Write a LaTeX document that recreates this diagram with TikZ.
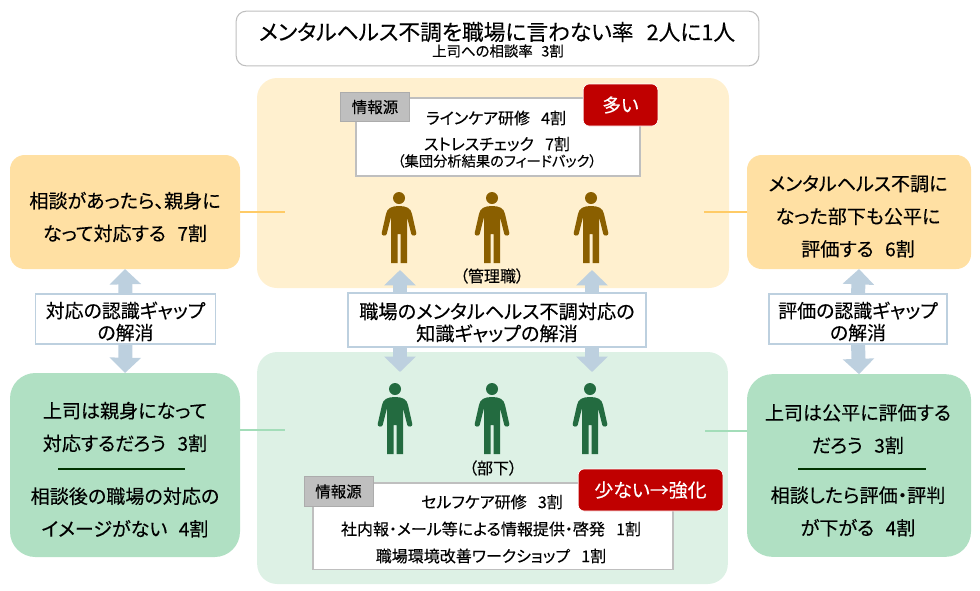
\documentclass[tikz,border=0pt]{standalone}
\usepackage{fontspec}
\setmainfont{Noto Sans CJK JP}[RawFeature=+palt,FakeBold=0.25]
\usetikzlibrary{arrows.meta}
\definecolor{upanel}{HTML}{FFF0CF}
\definecolor{ubox}{HTML}{FFE0A3}
\definecolor{lpanel}{HTML}{DDF1E5}
\definecolor{lbox}{HTML}{B0E0C3}
\definecolor{uline}{HTML}{FFCB66}
\definecolor{lline}{HTML}{A3DDB9}
\definecolor{gapc}{HTML}{BDD0DF}
\definecolor{greyc}{HTML}{BFBFBF}
\definecolor{redc}{HTML}{C00000}
\definecolor{mgrc}{HTML}{8A5F00}
\definecolor{subc}{HTML}{236B40}
\newcommand{\fs}[1]{\fontsize{#1pt}{#1pt}\selectfont}
\newcommand{\fsl}[2]{\fontsize{#1pt}{#2pt}\selectfont}
\tikzset{
  x=0.75pt,y=-0.75pt,
  every node/.style={inner sep=0pt,outer sep=0pt,text=black},
  infobox/.style={draw=greyc,line width=0.9pt,fill=white,anchor=north west},
  tagbox/.style={draw=greyc!90!black,fill=greyc,line width=0.5pt,font=\fs{11.6}},
  redbox/.style={draw=white,line width=0.5pt,fill=redc,rounded corners=4.5pt,text=white},
  gapbox/.style={draw=gapc,line width=1.3pt,fill=white},
  gaptext/.style={align=center,font=\fsl{14.2}{16.5}},
  bodytext/.style={align=center,font=\fsl{14.3}{24.5}},
  small/.style={font=\fs{12}},
  bigarrow/.style={draw=gapc,line width=10.5pt,-{Triangle[width=23pt,length=11.5pt,fill=gapc]}},
  pics/person/.style={code={
    \fill[#1] (0,6) circle[radius=6];
    \fill[#1] (-8,71) -- (-8,25) -- (-12.3,42) .. controls (-13,44.5) and (-18,44) .. (-17.3,41)
      -- (-13,22) .. controls (-12,16) and (-7,14) .. (0,14)
      .. controls (7,14) and (12,16) .. (13,22) -- (17.3,41)
      .. controls (18,44) and (13,44.5) .. (12.3,42) -- (8,25) -- (8,71) -- (1.5,71) -- (1.5,42) -- (-1.5,42) -- (-1.5,71) -- cycle;
  }}
}
\begin{document}
\begin{tikzpicture}
\useasboundingbox (0,0) rectangle (980,590);
% title
\node[draw=greyc,line width=0.8pt,fill=white,rounded corners=7.5pt,minimum width=392pt,minimum height=41pt] (title) at (497.5,38.5) {};
\node[font=\fs{16.3}] (titlea) at (497,32) {メンタルヘルス不調を職場に言わない率\hspace{0.6em}2人に1人};
\node[font=\fs{10.8}] (titleb) at (498,51) {上司への相談率\hspace{0.6em}3割};
% panels
\node[fill=upanel,rounded corners=15pt,minimum width=354pt,minimum height=157.5pt] (up) at (493,183) {};
\node[fill=lpanel,rounded corners=15pt,minimum width=353pt,minimum height=174pt] (lp) at (492.5,468) {};
% upper info
\node[infobox,minimum width=213pt,minimum height=58.5pt] (uinfo) at (356,98) {};
\node[tagbox,minimum width=52pt,minimum height=22pt] (utag) at (375,107) {\raisebox{-1.5pt}{情報源}};
\node[redbox,font=\fs{14},minimum width=56pt,minimum height=31.5pt] (ured) at (620.5,105) {\raisebox{-1pt}{多い}};
\node[small] (u1) at (496,118) {ラインケア研修\hspace{0.7em}4割};
\node[small] (u2) at (497,144) {ストレスチェック\hspace{0.7em}7割};
\node[font=\fs{10.7}] (u3) at (497,161) {（集団分析結果のフィードバック）};
% upper people
\pic at (399,192) {person=mgrc};
\pic at (492,192) {person=mgrc};
\pic at (591,192) {person=mgrc};
\node[font=\fs{12}] (mgr) at (492,276) {（管理職）};
% lower people
\pic at (395,383) {person=subc};
\pic at (492,383) {person=subc};
\pic at (590,383) {person=subc};
\node[font=\fs{12}] (sub) at (493,468) {（部下）};
% lower info
\node[infobox,minimum width=270pt,minimum height=65pt] (linfo) at (313,483) {};
\node[tagbox,minimum width=51.5pt,minimum height=22.5pt] (ltag) at (338.5,491.5) {\raisebox{-1pt}{情報源}};
\node[redbox,font=\fs{14.2},minimum width=108.5pt,minimum height=31.5pt] (lred) at (650.5,490) {\raisebox{-1pt}{少ない→強化}};
\node[small] (l1) at (492,502) {セルフケア研修\hspace{0.7em}3割};
\node[small] (l2) at (491,529) {社内報・メール等による情報提供・啓発\hspace{0.7em}1割};
\node[small] (l3) at (491,556) {職場環境改善ワークショップ\hspace{0.7em}1割};
% side boxes
\node[fill=ubox,rounded corners=11pt,minimum width=172.5pt,minimum height=85.5pt] (lu) at (125,212) {};
\node[fill=ubox,rounded corners=11pt,minimum width=168pt,minimum height=85.5pt] (ru) at (859,212) {};
\node[fill=lbox,rounded corners=19pt,minimum width=172.5pt,minimum height=138pt] (ll) at (125,465) {};
\node[fill=lbox,rounded corners=19pt,minimum width=168pt,minimum height=137pt] (rl) at (859,465.5) {};
\node[bodytext] (lut) at (125,217) {相談があったら、親身に\\なって対応する\hspace{0.6em}7割};
\node[bodytext] (rut) at (858,216.5) {メンタルヘルス不調に\\なった部下も公平に\\評価する\hspace{0.6em}6割};
\node[bodytext] (lla) at (125,427) {上司は親身になって\\対応するだろう\hspace{0.6em}3割};
\node[bodytext] (llb) at (125,512.5) {相談後の職場の対応の\\イメージがない\hspace{0.6em}4割};
\node[bodytext] (rla) at (858,429) {上司は公平に評価する\\だろう\hspace{0.6em}3割};
\node[bodytext] (rlb) at (858,511.5) {相談したら評価・評判\\が下がる\hspace{0.6em}4割};
\coordinate (lda) at (58,469);\coordinate (ldb) at (185,469);
\coordinate (rda) at (798,469);\coordinate (rdb) at (926,469);
\draw[black!80!green,line width=0.8pt] (lda) -- (ldb);
\draw[black!80!green,line width=0.8pt] (rda) -- (rdb);
% gap boxes
\node[gapbox,minimum width=135pt,minimum height=37pt] (lgap) at (125.5,319) {};
\node[gapbox,minimum width=134pt,minimum height=37pt] (rgap) at (858,319) {};
\node[gapbox,minimum width=224pt,minimum height=40pt] (kgap) at (497,320) {};
\node[gaptext] (lgt) at (125.5,321.5) {対応の認識ギャップ\\の解消};
\node[gaptext] (rgt) at (858,321.5) {評価の認識ギャップ\\の解消};
\node[gaptext,font=\fsl{14.4}{16.5}] (kgt) at (497,322.5) {職場のメンタルヘルス不調対応の\\知識ギャップの解消};
% connectors
\coordinate (lue) at (285,212);\coordinate (rue) at (704,212);
\coordinate (lle) at (285,430);\coordinate (rle) at (705,431);
\draw[uline,line width=0.9pt] (lu.east) -- (lue);
\draw[uline,line width=0.9pt] (ru.west) -- (rue);
\draw[lline,line width=0.9pt] (ll.east |- lle) -- (lle);
\draw[lline,line width=0.9pt] (rl.west |- rle) -- (rle);
\draw[bigarrow] (lgap.north) -- (lu.south);
\draw[bigarrow] (lgap.south) -- (ll.north);
\draw[bigarrow] (rgap.north) -- (ru.south);
\draw[bigarrow] (rgap.south) -- (rl.north);
\coordinate (ka) at (400,270);\coordinate (kb) at (592,270);
\coordinate (kc) at (400,372);\coordinate (kd) at (592,372);
\draw[bigarrow] (kgap.north -| ka) -- (ka);
\draw[bigarrow] (kgap.north -| kb) -- (kb);
\draw[bigarrow] (kgap.south -| kc) -- (kc);
\draw[bigarrow] (kgap.south -| kd) -- (kd);
\end{tikzpicture}
\end{document}
